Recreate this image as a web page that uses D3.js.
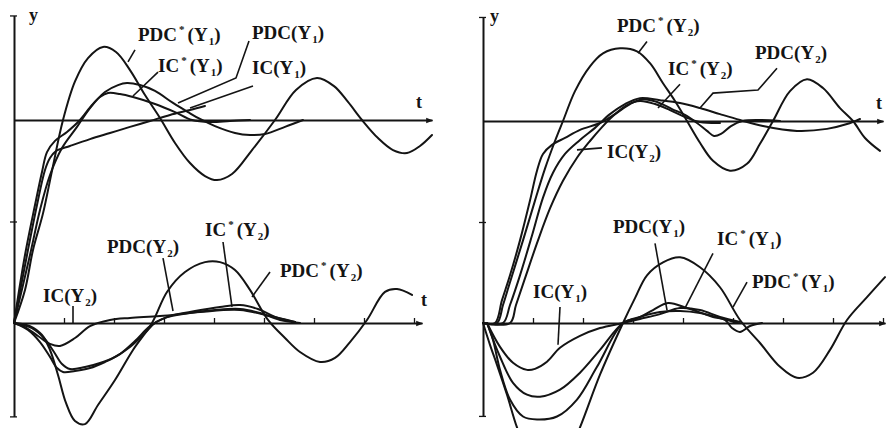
<!DOCTYPE html>
<html>
<head>
<meta charset="utf-8">
<script src="https://cdn.jsdelivr.net/npm/d3@7"></script>
<style>
  body { margin: 0; background: #fff; }
  svg { display: block; }
</style>
</head>
<body>
<svg id="chart" width="888" height="428"></svg>
<script>
// Step responses: [t, y] with y in % of the set-point step (0 = lower axis, 100 = upper axis)

// Left panel — set-point change in Y1: Y1 responses (upper)
const leftPdcStarY1 = [[0,0],[1.1,16.3],[1.9,36],[2.9,54],[3.8,75],[4.9,100],[6.1,119],[7.4,130.5],[8.9,136],[10.2,133.5],[11.6,124.6],[13.1,112.3],[14.6,101],[16.1,88.7],[17.6,78.8],[19.1,72.4],[20.3,70.4],[21.8,73.4],[23.8,85.2],[26.1,100],[28.2,114.8],[30.3,120.7],[32,116.7],[33.4,108.9],[34.8,100],[36.4,91.1],[37.9,85.2],[39.3,83.7],[40.6,87.2],[41.8,92.6]];
const leftPdcY1 = [[0,0],[1.6,33.5],[2.6,55.7],[3.6,72.9],[4.8,86.2],[6.3,96.6],[7.6,105.9],[9.1,113.8],[10.4,117.2],[11.3,118.2],[12.6,117.2],[14.1,114.3],[15.9,108.4],[17.4,103.9],[18.6,100.5],[20.1,97],[22.1,93.6],[23.6,92.6],[25.1,93.1],[27.1,96.6],[28.9,100]];
const leftIcStarY1 = [[0,0],[1.1,33.5],[2.1,58.1],[2.8,74.4],[3.3,84.2],[4.1,89.7],[5.3,94.1],[6.6,100],[7.8,107.4],[8.6,111.3],[9.4,113.3],[10.6,112.8],[11.9,111.3],[14.1,107.9],[16.1,103.9],[17.8,100],[19.6,99],[21.6,99.5],[23.6,100]];
const leftIcY1 = [[0,0],[1.3,33.5],[2.3,58.1],[3.1,75.4],[3.6,81.3],[4.2,84.7],[5.6,87.2],[7.6,90.6],[9.6,93.6],[11.6,96.6],[13.6,99.5],[15.6,102.5],[17.6,104.9],[19.1,106.9]];

// Left panel — Y2 responses (lower)
const leftPdcStarY2 = [[0,0],[1.6,-1.5],[2.8,-5.9],[3.6,-13.3],[4.4,-25.6],[5.2,-39.4],[6.1,-48.3],[7.1,-49.8],[8.4,-40.4],[10.1,-28.1],[11.9,-13.3],[13.8,0],[15.3,15.3],[17.1,25.1],[19.1,30],[20.6,30],[22.1,26.1],[23.6,16.3],[25.4,1.5],[27.1,-7.4],[28.6,-14.3],[30.6,-19.2],[32.1,-17.2],[33.6,-9.4],[35.3,1.5],[37.1,15.3],[38.3,16.7],[39.8,13.8]];
const leftPdcY2 = [[0,0],[1.4,-3.4],[2.6,-9.4],[3.6,-16.7],[4.3,-22.2],[4.9,-24.1],[6.1,-23.6],[7.6,-22.2],[9.1,-19.2],[10.6,-15.3],[12.1,-8.9],[13.6,-1.5],[15.1,2.5],[17.6,4.9],[20.1,6.4],[22.6,6.9],[24.6,4.9],[26.6,1.5],[28.6,0]];
const leftIcStarY2 = [[0,0],[1.8,-2.5],[3,-7.4],[4,-14.3],[4.8,-20.2],[5.6,-22.7],[7.1,-21.7],[8.6,-19.7],[10.1,-16.7],[11.6,-11.8],[13.1,-4.9],[14.1,0],[15.6,3.4],[18.1,5.9],[20.6,7.9],[22.6,8.9],[24.4,6.9],[26.1,3],[28.1,0.5]];
const leftIcY2 = [[0,0],[1.1,-2],[2.4,-6.4],[3.6,-10.3],[4.6,-11.3],[6.1,-7.4],[7.6,-1.5],[9.6,1.5],[11.6,2.5],[14.6,3.4],[18.6,5.4],[22.6,6.4],[25.6,3.4],[28.1,0.5]];

// Right panel — set-point change in Y2: Y2 responses (upper)
const rightPdcStarY2 = [[0,0],[1.4,0],[2,8.9],[2.7,20.2],[4,40.9],[5.2,60.6],[6.2,76.4],[7.2,90.1],[8,100],[9.2,114.8],[10.7,127.1],[12,133.5],[13.7,136],[15.4,134.5],[16.7,128.6],[18,118.7],[19.2,109.9],[20.4,100],[21.7,89.2],[23,80.3],[24.7,75.4],[26.4,78.8],[27.7,88.7],[29,100],[30.7,114.8],[32.4,120.7],[34,116.3],[35.7,106.4],[37,100],[38.2,91.6],[39.7,85.2]];
const rightIcStarY2 = [[0,0],[1.2,0],[1.9,11.3],[2.7,23.6],[3.7,40.9],[4.7,60.6],[5.4,75.4],[6,83.7],[6.9,88.2],[8.2,91.6],[9.7,95.6],[11.7,99],[13.2,103.4],[14.7,108.4],[16,110.8],[17.4,109.4],[18.9,105.9],[20.2,103],[21.4,99],[22.4,95.1],[23.1,92.6],[23.8,93.6],[24.8,97.5],[25.9,100],[27.7,100.5],[29.7,100]];
const rightPdcY2 = [[0,0],[2,0],[2.7,8.9],[3.7,23.6],[4.9,43.3],[6,62.1],[7,74.4],[8.2,83.7],[9.7,90.6],[11.2,96.6],[12.7,103.4],[14.2,108.4],[15.7,111.3],[17.7,110.3],[19.7,108.9],[21.7,106.4],[23.7,103.4],[25.7,100.5],[28,97.5],[31.4,95.1],[34.4,96.1],[36.4,98.5],[37.7,101]];
const rightIcY2 = [[0,0],[2.7,0],[3.3,8.9],[4.3,23.6],[5.5,40.9],[6.7,56.7],[8,70.4],[9.4,81.8],[10.7,90.1],[11.9,97],[13,102.5],[14.4,107.9],[15.7,109.9],[17.2,108.4],[18.7,105.4],[20.2,102],[21.7,99.5],[23.7,99]];

// Right panel — Y1 responses (lower)
const rightPdcStarY1 = [[0,0],[0.7,-10.8],[1.4,-20.7],[2.4,-35.5],[3.4,-51.7],[4.7,-67.5],[6.5,-74.9],[8.2,-68.5],[9.7,-51.7],[11.7,-25.6],[14,0],[15.2,12.3],[16.4,23.6],[18,30],[19.7,32.5],[21.7,27.6],[23.7,17.7],[25.7,1.5],[27.7,-9.9],[29.7,-21.7],[31.4,-27.1],[33,-24.6],[34.7,-13.3],[36.4,1.5],[38.4,12.8],[40.2,22.7]];
const rightIcY1 = [[0.4,0],[1.7,-11.8],[3,-19.7],[4.4,-23.2],[5.2,-22.7],[6.4,-19.2],[7.7,-12.3],[9.7,-6.4],[11.7,-2.5],[14,0],[15.7,2],[17.7,4.4],[19.7,7.4],[21.7,6.4],[23.7,3],[25.7,0.5]];
const rightPdcY1 = [[0.4,0],[1.7,-16.7],[3,-29.6],[4.4,-35.5],[5.7,-36.5],[7.7,-33],[9.7,-24.6],[11.7,-13.3],[14,0],[15.7,3],[17.7,5.4],[19.7,5.9],[21.7,4.9],[23.7,2.5],[25.5,0]];
const rightIcStarY1 = [[0.4,0],[1,-8.4],[1.7,-23.2],[2.7,-37.9],[4,-46.3],[5.4,-47.8],[7.4,-46.3],[9.4,-37.9],[11.4,-21.7],[14,0],[15.5,2.5],[17,6.4],[18.5,9.9],[20.4,7.4],[23,3],[24.2,1.5],[24.9,-2.5],[25.7,-4.4],[26.7,-1.5],[27.9,0]];

// Curve labels: name, starred, subscript
const leftLabels = [
  ["PDC", true, "1"], ["IC", true, "1"], ["PDC", false, "1"], ["IC", false, "1"],
  ["PDC", false, "2"], ["IC", false, "2"], ["IC", true, "2"], ["PDC", true, "2"]
];
const rightLabels = [
  ["PDC", true, "2"], ["IC", true, "2"], ["PDC", false, "2"], ["IC", false, "2"],
  ["PDC", false, "1"], ["IC", true, "1"], ["PDC", true, "1"], ["IC", false, "1"]
];

const svg = d3.select("#chart");
const ink = "#141414";

const defs = svg.append("defs");
defs.append("marker")
  .attr("id", "arrow").attr("viewBox", "0 0 10 10")
  .attr("refX", 9).attr("refY", 5)
  .attr("markerWidth", 9).attr("markerHeight", 7)
  .attr("markerUnits", "userSpaceOnUse")
  .attr("orient", "auto")
  .append("path").attr("d", "M0,1L10,5L0,9Z").attr("fill", ink);

function drawPanel(cfg) {
  const g = svg.append("g");
  const x = cfg.x, y = cfg.y;

  // vertical y axis with end bars and a mid tick
  const yAxisScale = y.copy().domain([-46, 151.5]).range([y(-46), y(151.5)]);
  const ya = g.append("g").attr("transform", `translate(${x(0)},0)`)
    .call(d3.axisLeft(yAxisScale).tickValues([-46, 50, 151.5]).tickSize(4).tickSizeOuter(0).tickFormat(() => ""));
  ya.selectAll(".tick line").attr("x1", -4).attr("x2", 3);

  // upper time axis (set-point level)
  const tu = x.copy().domain([0, cfg.upperEnd]).range([x(0), x(cfg.upperEnd)]);
  g.append("g").attr("transform", `translate(0,${y(100)})`)
    .call(d3.axisBottom(tu).tickValues([]).tickSizeOuter(0))
    .select(".domain").attr("marker-end", "url(#arrow)");

  // lower time axis with small ticks
  const tl = x.copy().domain([0, cfg.lowerEnd]).range([x(0), x(cfg.lowerEnd)]);
  g.append("g").attr("transform", `translate(0,${y(0)})`)
    .call(d3.axisBottom(tl).tickValues(d3.range(5, cfg.lowerEnd, 5)).tickSize(-5).tickSizeOuter(0).tickFormat(() => ""))
    .select(".domain").attr("marker-end", "url(#arrow)");

  g.selectAll(".domain, .tick line").attr("stroke", ink).attr("stroke-width", 2);
  g.selectAll(".tick line").attr("stroke-width", 1.3);

  // response curves
  const line = d3.line().x(d => x(d[0])).y(d => y(d[1])).curve(d3.curveCatmullRom.alpha(0.5));
  g.selectAll("path.resp").data(cfg.series).join("path")
    .attr("class", "resp")
    .attr("d", line)
    .attr("fill", "none").attr("stroke", ink).attr("stroke-width", 2)
    .attr("stroke-linejoin", "round").attr("stroke-linecap", "round");

  // leader lines
  const leader = d3.line().x(d => x(d[0])).y(d => y(d[1]));
  g.selectAll("path.lead").data(cfg.leaders).join("path")
    .attr("class", "lead").attr("d", leader)
    .attr("fill", "none").attr("stroke", ink).attr("stroke-width", 1.6);

  // curve labels
  cfg.labels.forEach((lab, i) => {
    const [name, star, sub] = lab;
    const p = cfg.labelPos[i];
    const t = g.append("text")
      .attr("x", x(p[0])).attr("y", y(p[1]))
      .attr("font-family", "'Liberation Serif', 'DejaVu Serif', serif")
      .attr("font-weight", "bold").attr("font-size", 19).attr("fill", ink);
    t.append("tspan").text(name);
    if (star) {
      t.append("tspan").attr("font-size", 11).attr("dx", 2).attr("dy", -8).text("*");
      t.append("tspan").attr("dx", 3).attr("dy", 8).text("(Y");
    } else {
      t.append("tspan").text("(Y");
    }
    t.append("tspan").attr("font-size", 11).attr("dx", 1).attr("dy", 4).text(sub);
    t.append("tspan").attr("dy", -4).text(")");
  });

  // axis letters
  const axisText = (tv, vv, s) => g.append("text")
    .attr("x", x(tv)).attr("y", y(vv))
    .attr("font-family", "'Liberation Serif', serif").attr("font-weight", "bold")
    .attr("font-size", 18).attr("fill", ink).text(s);
  cfg.letters.forEach(d => axisText(d[0], d[1], d[2]));
}

// left panel
drawPanel({
  x: d3.scaleLinear().domain([0, 42]).range([14, 434]),
  y: d3.scaleLinear().domain([0, 100]).range([323, 120]),
  upperEnd: 41.8, lowerEnd: 40.8,
  series: [leftPdcStarY1, leftPdcY1, leftIcStarY1, leftIcY1, leftPdcStarY2, leftPdcY2, leftIcStarY2, leftIcY2],
  leaders: [
    [[12.1,134.5],[11.4,128.6]],
    [[14.4,123.6],[11.9,111.8]],
    [[23.5,138.9],[22.2,120.7],[16.4,108.4]],
    [[23.9,116.7],[17.6,105.9]],
    [[14.9,32],[15.9,5.9]],
    [[20.9,39.9],[21.8,7.9]],
    [[25.6,25.1],[23.8,12.8]],
    [[5.9,8.4],[5.9,0]]
  ],
  labels: leftLabels,
  labelPos: [[12.4,138.9],[14.4,123.6],[23.8,139.9],[23.8,122.7],[9.3,34.5],[2.9,10.3],[19.1,42.9],[26.6,22.7]],
  letters: [[1.5,149,"y"],[40.2,106,"t"],[40.7,8.4,"t"]]
});

// right panel
drawPanel({
  x: d3.scaleLinear().domain([0, 40]).range([483, 883]),
  y: d3.scaleLinear().domain([0, 100]).range([323, 121]),
  upperEnd: 40, lowerEnd: 40.2,
  series: [rightPdcStarY2, rightIcStarY2, rightPdcY2, rightIcY2, rightPdcStarY1, rightIcY1, rightPdcY1, rightIcStarY1],
  leaders: [
    [[16.4,139.4],[15.5,133.5]],
    [[19.7,118.2],[17.5,106.4]],
    [[29.4,126.1],[27.5,115.3],[23,113.8],[21.7,106.4]],
    [[11.9,86.7],[9.4,85.7]],
    [[7.7,7.9],[7.5,-10.8]],
    [[17.2,39.4],[18.4,6.4]],
    [[23,34.5],[20.2,7.4]],
    [[26.4,20.2],[25,7.9]]
  ],
  labels: rightLabels,
  labelPos: [[13.4,144.3],[18.5,122.7],[27.2,130.5],[12.4,81.8],[13,44.8],[23.4,38.4],[26.9,17.2],[5,12.3]],
  letters: [[0.7,149,"y"],[39.3,106,"t"]]
});
</script>
</body>
</html>
